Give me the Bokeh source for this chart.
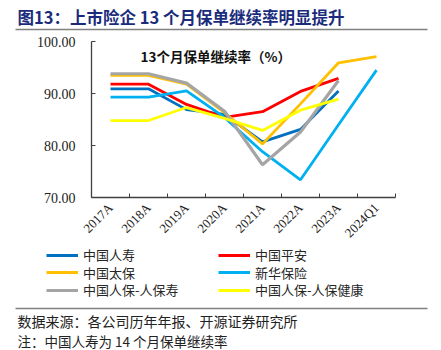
import math
from bokeh.plotting import figure
from bokeh.models import (Range1d, FixedTicker, NumeralTickFormatter, Label,
                          Legend, LegendItem, BoxAnnotation, LinearAxis)
from bokeh.embed import file_html
from bokeh.resources import INLINE

nan = float("nan")

categories = ["2017A", "2018A", "2019A", "2020A", "2021A", "2022A", "2023A", "2024Q1"]
series_names = ["中国人寿", "中国平安", "中国太保", "新华保险", "中国人保-人保寿", "中国人保-人保健康"]
china_life = [90.9, 90.9, 86.9, 86.0, 80.7, 83.1, 90.5, nan]
ping_an = [91.8, 91.8, 87.9, 85.4, 86.5, 90.4, 92.9, nan]
cpic = [93.5, 93.5, 91.8, 86.3, 80.3, 88.0, 95.9, 97.1]
nci = [89.3, 89.3, 90.5, 85.4, 78.8, 73.4, 84.0, 94.5]
picc_life = [93.8, 93.8, 92.0, 86.6, 76.3, 82.6, 92.5, nan]
picc_health = [84.8, 84.8, 87.3, 85.2, 82.9, 86.8, 88.9, nan]
y_ticks = [70, 80, 90, 100]

title_text = "图13：上市险企 13 个月保单继续率明显提升"
inner_title = "13个月保单继续率（%）"
source_text = "数据来源：各公司历年年报、开源证券研究所"
note_text = "注：中国人寿为 14 个月保单继续率"

colors = ["#0070C0", "#FF0000", "#FFC000", "#00B0F0", "#A5A5A5", "#FFFF00"]
widths = [2.8, 2.8, 2.8, 2.8, 3.2, 2.8]
all_series = [china_life, ping_an, cpic, nci, picc_life, picc_health]

xs = [i + 0.5 for i in range(len(categories))]
n = len(categories)

# layout of the plotting area inside the 441x350 canvas (pixels)
W, H = 441, 350
L, R, T, B = 91, 395, 41, 197
ymin, ymax = y_ticks[0], y_ticks[-1]
px_x = (R - L) / n
px_y = (B - T) / (ymax - ymin)

p = figure(width=W, height=H, output_backend="svg", toolbar_location=None,
           x_range=Range1d(-L / px_x, (W - L) / px_x),
           y_range=Range1d(ymin - (H - B) / px_y, ymax + T / px_y),
           x_axis_type=None, y_axis_type=None, min_border=0, title=None)
p.outline_line_color = None
p.background_fill_color = "white"
p.border_fill_color = "white"

axis_color = "#404040"
yaxis = LinearAxis(fixed_location=0, bounds=(ymin, ymax),
                   ticker=FixedTicker(ticks=y_ticks, minor_ticks=[]),
                   formatter=NumeralTickFormatter(format="0.00"))
yaxis.major_tick_in = 4
yaxis.major_tick_out = 0
yaxis.minor_tick_line_color = None
yaxis.axis_line_color = axis_color
yaxis.major_tick_line_color = axis_color
yaxis.axis_line_width = 1.3
yaxis.major_label_text_font = "Liberation Serif"
yaxis.major_label_text_font_size = "14px"
yaxis.major_label_text_color = "#222222"
yaxis.major_label_standoff = 16
p.add_layout(yaxis, "left")

xaxis = LinearAxis(fixed_location=ymin, bounds=(0, n),
                   ticker=FixedTicker(ticks=xs, minor_ticks=list(range(n + 1))))
xaxis.major_label_overrides = {x: c for x, c in zip(xs, categories)}
xaxis.major_tick_in = 0
xaxis.major_tick_out = 0
xaxis.minor_tick_in = 4
xaxis.minor_tick_out = 0
xaxis.minor_tick_line_color = axis_color
xaxis.axis_line_color = axis_color
xaxis.axis_line_width = 1.3
xaxis.major_label_orientation = math.pi / 4
xaxis.major_label_text_font = "Liberation Serif"
xaxis.major_label_text_font_size = "13px"
xaxis.major_label_text_color = "#222222"
xaxis.major_label_standoff = 8
p.add_layout(xaxis, "below")

renderers = []
for vals, col, w in zip(all_series, colors, widths):
    r = p.line(xs, vals, line_color=col, line_width=w)
    renderers.append(r)

cjk = "Noto Sans CJK SC"

# legend: two columns, three rows (one small legend per entry for exact placement)
col_x = [46, 218]
row_y = [256, 273.5, 291]
item_h = 16
for i, name in enumerate(series_names):
    row, col = divmod(i, 2)
    lg = Legend(items=[LegendItem(label=name, renderers=[renderers[i]])],
                location=(col_x[col], H - (row_y[row] + item_h / 2)),
                orientation="vertical",
                glyph_width=32, glyph_height=item_h, label_height=item_h, spacing=0,
                label_standoff=5, padding=0, margin=0,
                border_line_alpha=0, background_fill_alpha=0,
                label_text_font=cjk, label_text_font_size="13px",
                label_text_color="#262626", label_text_baseline="middle")
    p.add_layout(lg, "center")

def add_text(txt, x, y, size, bold=False, color="#222222"):
    p.add_layout(Label(x=x, y=H - y, x_units="screen", y_units="screen", text=txt,
                       text_font=cjk, text_font_size=size,
                       text_font_style="bold" if bold else "normal",
                       text_color=color, text_baseline="middle"))

add_text(title_text, 17, 16, "16.5px", True, "#1a2b7c")
add_text(inner_title, 140, 55, "13.5px", True, "#111111")
add_text(source_text, 17, 320, "14px")
add_text(note_text, 17, 340, "13.5px")

for yy in (29, 308):
    p.add_layout(BoxAnnotation(left=15, right=427,
                               top=H - yy + 0.8, bottom=H - yy - 0.8,
                               left_units="screen", right_units="screen",
                               top_units="screen", bottom_units="screen",
                               fill_color="#808080", fill_alpha=1, line_color=None))

open("out.html", "w").write(file_html(p, INLINE))
